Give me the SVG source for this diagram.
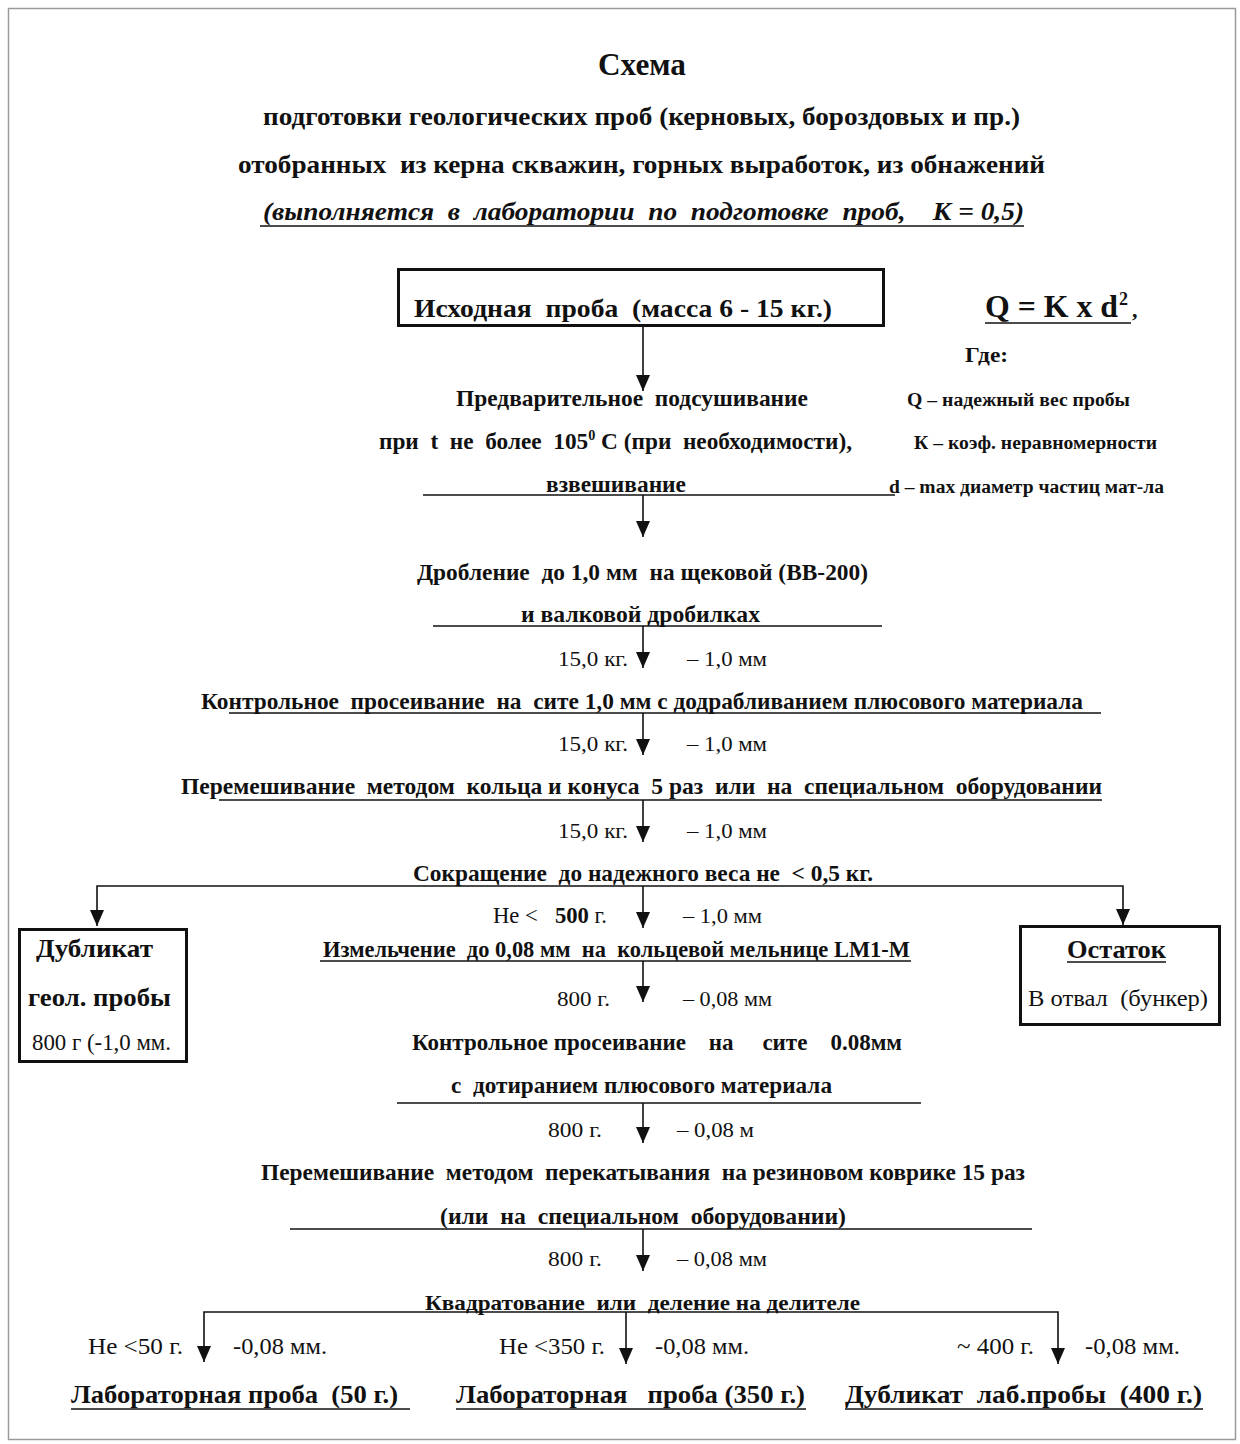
<svg xmlns="http://www.w3.org/2000/svg" width="1240" height="1444" viewBox="0 0 1240 1444">
<style>
.b{font-family:"Liberation Serif","Times New Roman",serif;font-weight:bold;fill:#111}
.r{font-family:"Liberation Serif","Times New Roman",serif;fill:#111}
.i{font-family:"Liberation Serif","Times New Roman",serif;font-weight:bold;font-style:italic;fill:#111}
.ln{stroke:#111;stroke-width:1.6;fill:none}
.box{stroke:#111;stroke-width:3;fill:#fff}
.c{stroke:#111;stroke-width:1.6;fill:none}
</style>
<defs>
<marker id="ah" markerUnits="userSpaceOnUse" markerWidth="16" markerHeight="14" viewBox="0 0 16 14" refX="16" refY="7" orient="auto-start-reverse">
<path d="M0,0 L16,7 L0,14 Z" fill="#111"/>
</marker>
</defs>
<rect x="0" y="0" width="1240" height="1444" fill="#fff"/>
<rect x="8.5" y="8.5" width="1227" height="1431" fill="none" stroke="#9a9a9a" stroke-width="1.5"/>

<g id="title">
<text class="b" x="598" y="75" font-size="31" textLength="88" lengthAdjust="spacingAndGlyphs">Схема</text>
<text class="b" x="263" y="125" font-size="25" textLength="757" lengthAdjust="spacingAndGlyphs">подготовки геологических проб (керновых, бороздовых и пр.)</text>
<text class="b" x="238" y="173" font-size="25" textLength="807" lengthAdjust="spacingAndGlyphs" xml:space="preserve">отобранных  из керна скважин, горных выработок, из обнажений</text>
<text class="i" x="263" y="220" font-size="25" textLength="761" lengthAdjust="spacingAndGlyphs" xml:space="preserve">(выполняется  в  лаборатории  по  подготовке  проб,    К = 0,5)</text>
<line class="ln" x1="260" y1="226" x2="1024" y2="226"/>
</g>

<g id="formula">
<text class="b" x="985" y="317" font-size="31" textLength="133" lengthAdjust="spacingAndGlyphs">Q = K x d</text>
<text class="b" x="1119" y="305" font-size="18">2</text>
<text class="b" x="1132" y="317" font-size="22">,</text>
<line class="ln" x1="985" y1="323" x2="1131" y2="323" stroke-width="2"/>
<text class="b" x="965" y="362" font-size="21" textLength="43" lengthAdjust="spacingAndGlyphs">Где:</text>
<text class="b" x="907" y="406" font-size="18" textLength="223" lengthAdjust="spacingAndGlyphs">Q – надежный вес пробы</text>
<text class="b" x="914" y="449" font-size="18" textLength="243" lengthAdjust="spacingAndGlyphs">К – коэф. неравномерности</text>
<text class="b" x="889" y="493" font-size="18" textLength="275" lengthAdjust="spacingAndGlyphs">d – max диаметр частиц мат-ла</text>
</g>

<g id="n1">
<rect class="box" x="398.5" y="269.5" width="485" height="56"/>
<text class="b" x="414" y="317" font-size="26" textLength="418" lengthAdjust="spacingAndGlyphs" xml:space="preserve">Исходная  проба  (масса 6 - 15 кг.)</text>
</g>

<g id="n2">
<text class="b" x="456" y="406" font-size="23" textLength="352" lengthAdjust="spacingAndGlyphs" xml:space="preserve">Предварительное  подсушивание</text>
<text class="b" x="379" y="449" font-size="23" textLength="473" lengthAdjust="spacingAndGlyphs" xml:space="preserve">при  t  не  более  105<tspan font-size="14" dy="-9">0</tspan><tspan dy="9"> С (при  необходимости),</tspan></text>
<text class="b" x="546" y="492" font-size="23" textLength="140" lengthAdjust="spacingAndGlyphs">взвешивание</text>
<line class="ln" x1="423" y1="495" x2="895" y2="495"/>
</g>

<g id="n3">
<text class="b" x="417" y="580" font-size="24" textLength="451" lengthAdjust="spacingAndGlyphs" xml:space="preserve">Дробление  до 1,0 мм  на щековой (ВВ-200)</text>
<text class="b" x="521" y="622" font-size="24" textLength="239" lengthAdjust="spacingAndGlyphs">и валковой дробилках</text>
<line class="ln" x1="433" y1="626" x2="882" y2="626"/>
</g>

<g id="n4">
<text class="b" x="201" y="709" font-size="24" textLength="882" lengthAdjust="spacingAndGlyphs" xml:space="preserve">Контрольное  просеивание  на  сите 1,0 мм с додрабливанием плюсового материала</text>
<line class="ln" x1="229" y1="713" x2="1101" y2="713"/>
</g>

<g id="n5">
<text class="b" x="181" y="794" font-size="24" textLength="921" lengthAdjust="spacingAndGlyphs" xml:space="preserve">Перемешивание  методом  кольца и конуса  5 раз  или  на  специальном  оборудовании</text>
<line class="ln" x1="219" y1="800" x2="1102" y2="800"/>
</g>

<g id="n6">
<text class="b" x="413" y="881" font-size="24" textLength="460" lengthAdjust="spacingAndGlyphs" xml:space="preserve">Сокращение  до надежного веса не  &lt; 0,5 кг.</text>
</g>

<g id="n7">
<rect class="box" x="19.5" y="929.5" width="167" height="132"/>
<text class="b" x="36" y="957" font-size="26" textLength="117" lengthAdjust="spacingAndGlyphs">Дубликат</text>
<text class="b" x="28" y="1006" font-size="26" textLength="143" lengthAdjust="spacingAndGlyphs">геол. пробы</text>
<text class="r" x="32" y="1050" font-size="23" textLength="139" lengthAdjust="spacingAndGlyphs">800 г (-1,0 мм.</text>
</g>

<g id="n8">
<rect class="box" x="1020.5" y="926.5" width="199" height="98"/>
<text class="b" x="1067" y="958" font-size="26" textLength="99" lengthAdjust="spacingAndGlyphs">Остаток</text>
<line class="ln" x1="1067" y1="962" x2="1166" y2="962"/>
<text class="r" x="1028" y="1006" font-size="24" textLength="180" lengthAdjust="spacingAndGlyphs" xml:space="preserve">В отвал  (бункер)</text>
</g>

<g id="n9">
<text class="b" x="323" y="957" font-size="24" textLength="587" lengthAdjust="spacingAndGlyphs" xml:space="preserve">Измельчение  до 0,08 мм  на  кольцевой мельнице LM1-M</text>
<line class="ln" x1="320" y1="961" x2="911" y2="961"/>
</g>

<g id="n10">
<text class="b" x="412" y="1050" font-size="23" textLength="490" lengthAdjust="spacingAndGlyphs" xml:space="preserve">Контрольное просеивание    на     сите    0.08мм</text>
<text class="b" x="451" y="1093" font-size="23" textLength="381" lengthAdjust="spacingAndGlyphs" xml:space="preserve">с  дотиранием плюсового материала</text>
<line class="ln" x1="397" y1="1103" x2="921" y2="1103"/>
</g>

<g id="n11">
<text class="b" x="261" y="1180" font-size="23" textLength="764" lengthAdjust="spacingAndGlyphs" xml:space="preserve">Перемешивание  методом  перекатывания  на резиновом коврике 15 раз</text>
<text class="b" x="440" y="1224" font-size="23" textLength="406" lengthAdjust="spacingAndGlyphs" xml:space="preserve">(или  на  специальном  оборудовании)</text>
<line class="ln" x1="290" y1="1229" x2="1032" y2="1229"/>
</g>

<g id="n12">
<text class="b" x="425" y="1310" font-size="22" textLength="435" lengthAdjust="spacingAndGlyphs" xml:space="preserve">Квадратование  или  деление на делителе</text>
</g>

<g id="n13">
<text class="b" x="71" y="1403" font-size="25" textLength="327" lengthAdjust="spacingAndGlyphs" xml:space="preserve">Лабораторная проба  (50 г.)</text>
<line class="ln" x1="71" y1="1409" x2="410" y2="1409"/>
</g>
<g id="n14">
<text class="b" x="456" y="1403" font-size="25" textLength="349" lengthAdjust="spacingAndGlyphs" xml:space="preserve">Лабораторная   проба (350 г.)</text>
<line class="ln" x1="456" y1="1409" x2="806" y2="1409"/>
</g>
<g id="n15">
<text class="b" x="845" y="1403" font-size="25" textLength="357" lengthAdjust="spacingAndGlyphs" xml:space="preserve">Дубликат  лаб.пробы  (400 г.)</text>
<line class="ln" x1="845" y1="1409" x2="1203" y2="1409"/>
</g>

<g id="connectors">
<line class="c" x1="643" y1="326" x2="643" y2="391" marker-end="url(#ah)"/>
<line class="c" x1="643" y1="495" x2="643" y2="537" marker-end="url(#ah)"/>
<line class="c" x1="643" y1="626" x2="643" y2="668" marker-end="url(#ah)"/>
<line class="c" x1="643" y1="713" x2="643" y2="755" marker-end="url(#ah)"/>
<line class="c" x1="643" y1="800" x2="643" y2="842" marker-end="url(#ah)"/>
<line class="c" x1="643" y1="886" x2="643" y2="928" marker-end="url(#ah)"/>
<path class="c" d="M97,926 V886 H1123 V925" marker-start="url(#ah)" marker-end="url(#ah)"/>
<line class="c" x1="643" y1="961" x2="643" y2="1002" marker-end="url(#ah)"/>
<line class="c" x1="643" y1="1103" x2="643" y2="1143" marker-end="url(#ah)"/>
<line class="c" x1="643" y1="1229" x2="643" y2="1271" marker-end="url(#ah)"/>
<path class="c" d="M204,1362 V1312 H1058 V1364" marker-start="url(#ah)" marker-end="url(#ah)"/>
<line class="c" x1="626" y1="1312" x2="626" y2="1364" marker-end="url(#ah)"/>

<text class="r" x="558" y="666" font-size="22" textLength="70" lengthAdjust="spacingAndGlyphs">15,0 кг.</text>
<text class="r" x="687" y="666" font-size="22" textLength="80" lengthAdjust="spacingAndGlyphs">– 1,0 мм</text>
<text class="r" x="558" y="751" font-size="22" textLength="70" lengthAdjust="spacingAndGlyphs">15,0 кг.</text>
<text class="r" x="687" y="751" font-size="22" textLength="80" lengthAdjust="spacingAndGlyphs">– 1,0 мм</text>
<text class="r" x="558" y="838" font-size="22" textLength="70" lengthAdjust="spacingAndGlyphs">15,0 кг.</text>
<text class="r" x="687" y="838" font-size="22" textLength="80" lengthAdjust="spacingAndGlyphs">– 1,0 мм</text>
<text class="r" x="493" y="923" font-size="23" textLength="114" lengthAdjust="spacingAndGlyphs" xml:space="preserve">Не &lt;   <tspan font-weight="bold">500</tspan> г.</text>
<text class="r" x="683" y="923" font-size="22" textLength="79" lengthAdjust="spacingAndGlyphs">– 1,0 мм</text>
<text class="r" x="557" y="1006" font-size="22" textLength="53" lengthAdjust="spacingAndGlyphs">800 г.</text>
<text class="r" x="683" y="1006" font-size="22" textLength="89" lengthAdjust="spacingAndGlyphs">– 0,08 мм</text>
<text class="r" x="548" y="1137" font-size="22" textLength="54" lengthAdjust="spacingAndGlyphs">800 г.</text>
<text class="r" x="677" y="1137" font-size="22" textLength="77" lengthAdjust="spacingAndGlyphs">– 0,08 м</text>
<text class="r" x="548" y="1266" font-size="22" textLength="54" lengthAdjust="spacingAndGlyphs">800 г.</text>
<text class="r" x="677" y="1266" font-size="22" textLength="90" lengthAdjust="spacingAndGlyphs">– 0,08 мм</text>
<text class="r" x="88" y="1354" font-size="23" textLength="95" lengthAdjust="spacingAndGlyphs">Не &lt;50 г.</text>
<text class="r" x="233" y="1354" font-size="23" textLength="94" lengthAdjust="spacingAndGlyphs">-0,08 мм.</text>
<text class="r" x="499" y="1354" font-size="23" textLength="106" lengthAdjust="spacingAndGlyphs">Не &lt;350 г.</text>
<text class="r" x="655" y="1354" font-size="23" textLength="94" lengthAdjust="spacingAndGlyphs">-0,08 мм.</text>
<text class="r" x="957" y="1354" font-size="23" textLength="77" lengthAdjust="spacingAndGlyphs">~ 400 г.</text>
<text class="r" x="1085" y="1354" font-size="23" textLength="95" lengthAdjust="spacingAndGlyphs">-0,08 мм.</text>
</g>
</svg>
